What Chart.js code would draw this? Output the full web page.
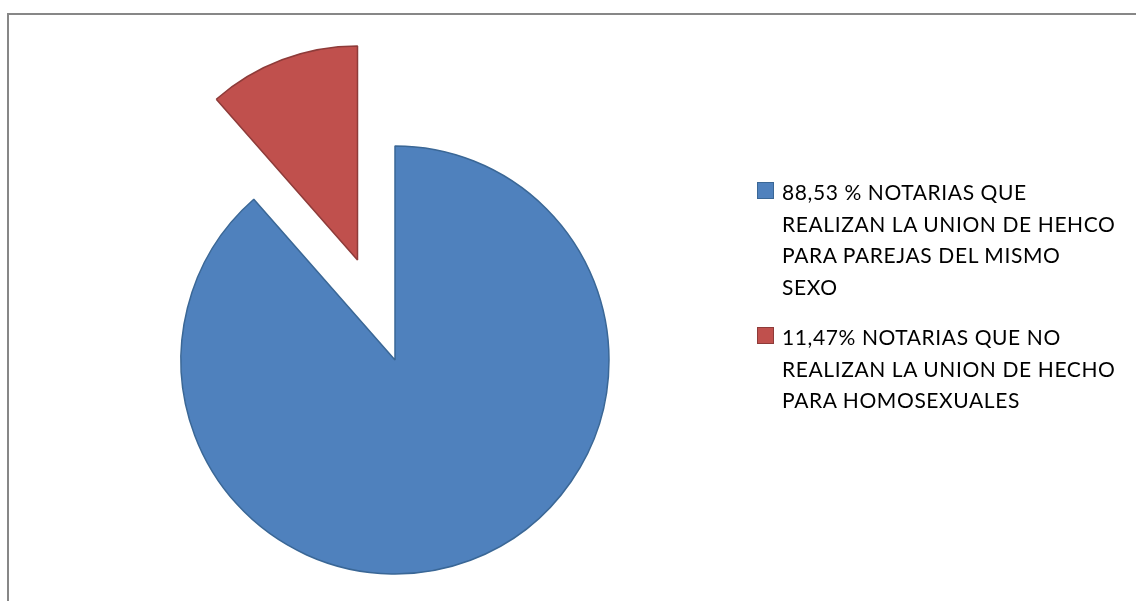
<!DOCTYPE html>
<html>
<head>
<meta charset="utf-8">
<script src="https://cdn.jsdelivr.net/npm/chart.js@4/dist/chart.umd.min.js"></script>
<style>
  html, body { margin: 0; padding: 0; background: #fff; }
  #wrap { position: relative; width: 1136px; height: 601px; overflow: hidden; }
  #frame {
    position: absolute; left: 7px; top: 13px; width: 1140px; height: 600px;
    border-left: 2px solid #878787; border-top: 2px solid #878787;
  }
  canvas { position: absolute; left: 0; top: 0; }
  #legend {
    position: absolute; left: 757px; top: 176px;
    font-family: Lato, "Open Sans", sans-serif; font-size: 21px; color: #000;
    letter-spacing: 0.6px;
  }
  .item { position: relative; padding-left: 25px; line-height: 31.7px; margin-bottom: 18px; }
  .box {
    position: absolute; left: 0; top: 6px; width: 15px; height: 15px;
    border: 1px solid;
  }
</style>
</head>
<body>
<div id="wrap">
  <div id="frame"></div>
  <canvas id="pieMain" width="1136" height="601"></canvas>
  <canvas id="pieSlice" width="1136" height="601"></canvas>
  <div id="legend"></div>
</div>
<script>
// data
const categories = [
  ['88,53 % NOTARIAS QUE', 'REALIZAN LA UNION DE HEHCO', 'PARA PAREJAS DEL MISMO', 'SEXO'],
  ['11,47% NOTARIAS QUE NO', 'REALIZAN LA UNION DE HECHO', 'PARA HOMOSEXUALES']
];
const values = [88.53, 11.47];

const fills = ['#4F81BD', '#C0504D'];
const borders = ['#3A6796', '#8E3B39'];
const clear = 'rgba(0,0,0,0)';

// the exploded slice is drawn by a second chart on top, moved out along its mid angle
function makePie(id, show, padding) {
  const ctx = document.getElementById(id).getContext('2d');
  return new Chart(ctx, {
    type: 'pie',
    data: {
      labels: categories,
      datasets: [{
        data: values,
        backgroundColor: fills.map((c, i) => show[i] ? c : clear),
        borderColor: borders.map((c, i) => show[i] ? c : clear),
        borderWidth: 1.5,
        clip: false
      }]
    },
    options: {
      responsive: false,
      animation: false,
      radius: 214,
      layout: { padding: padding },
      plugins: {
        legend: { display: false },
        tooltip: { enabled: false }
      }
    }
  });
}

makePie('pieMain', [true, false], { left: 0, right: 346, top: 119, bottom: 0 });
makePie('pieSlice', [false, true], { left: 0, right: 421, top: 0, bottom: 81 });

const legend = document.getElementById('legend');
categories.forEach(function (lines, i) {
  const item = document.createElement('div');
  item.className = 'item';
  const box = document.createElement('span');
  box.className = 'box';
  box.style.background = fills[i];
  box.style.borderColor = borders[i];
  item.appendChild(box);
  lines.forEach(function (line, j) {
    if (j > 0) item.appendChild(document.createElement('br'));
    item.appendChild(document.createTextNode(line));
  });
  legend.appendChild(item);
});
</script>
</body>
</html>
